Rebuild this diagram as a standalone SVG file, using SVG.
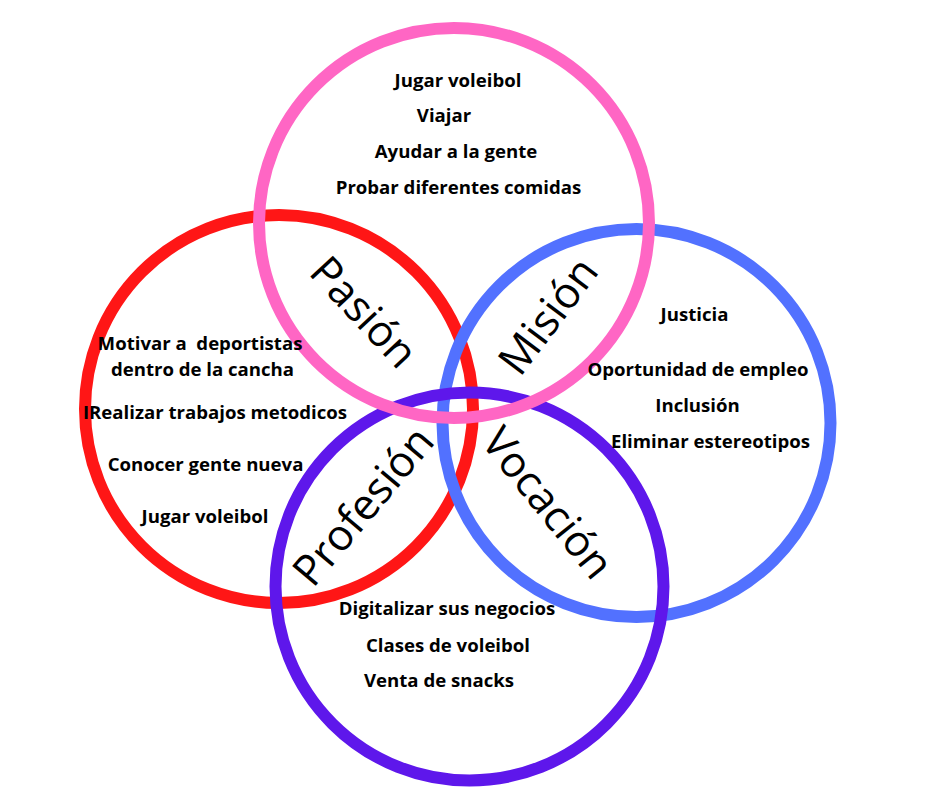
<svg xmlns="http://www.w3.org/2000/svg" width="940" height="788" viewBox="0 0 940 788">
<style>
.c{fill:none;stroke-width:12}
.t{font-family:"Open Sans","Liberation Sans",sans-serif;font-weight:700;font-size:18.6px;fill:#000;text-anchor:middle}
.b{font-family:"Open Sans","Liberation Sans",sans-serif;font-weight:400;font-size:43px;fill:#000;text-anchor:middle;dominant-baseline:central}
</style>
<rect width="940" height="788" fill="#fff"/>
<g id="circles">
<circle id="red" class="c" cx="279" cy="409" r="194" stroke="#FF1616"/>
<circle id="blue" class="c" cx="636.5" cy="423" r="194" stroke="#5271FF"/>
<circle id="purple" class="c" cx="469.5" cy="586.5" r="194" stroke="#5E17EB"/>
<circle id="pink" class="c" cx="454" cy="223" r="195" stroke="#FF66C4"/>
</g>
<g id="pink-texts">
<text class="t" x="458" y="87">Jugar voleibol</text>
<text class="t" x="444" y="122">Viajar</text>
<text class="t" x="456" y="158">Ayudar a la gente</text>
<text class="t" x="458.5" y="194">Probar diferentes comidas</text>
</g>
<g id="red-texts">
<text class="t" x="200" y="350" xml:space="preserve">Motivar a  deportistas</text>
<text class="t" x="202.5" y="376">dentro de la cancha</text>
<text class="t" x="215" y="419">IRealizar trabajos metodicos</text>
<text class="t" x="205.5" y="471">Conocer gente nueva</text>
<text class="t" x="205" y="523">Jugar voleibol</text>
</g>
<g id="blue-texts">
<text class="t" x="694.5" y="321">Justicia</text>
<text class="t" x="698" y="376">Oportunidad de empleo</text>
<text class="t" x="697.5" y="412">Inclusión</text>
<text class="t" x="710.5" y="448">Eliminar estereotipos</text>
</g>
<g id="purple-texts">
<text class="t" x="447" y="615">Digitalizar sus negocios</text>
<text class="t" x="448" y="652">Clases de voleibol</text>
<text class="t" x="439" y="687">Venta de snacks</text>
</g>
<g id="labels">
<text class="b" transform="translate(365 311) rotate(47)">Pasión</text>
<text class="b" transform="translate(547 315) rotate(-53)">Misión</text>
<text class="b" transform="translate(362 505) rotate(-50)">Profesión</text>
<text class="b" transform="translate(549 502) rotate(51)">Vocación</text>
</g>
</svg>
